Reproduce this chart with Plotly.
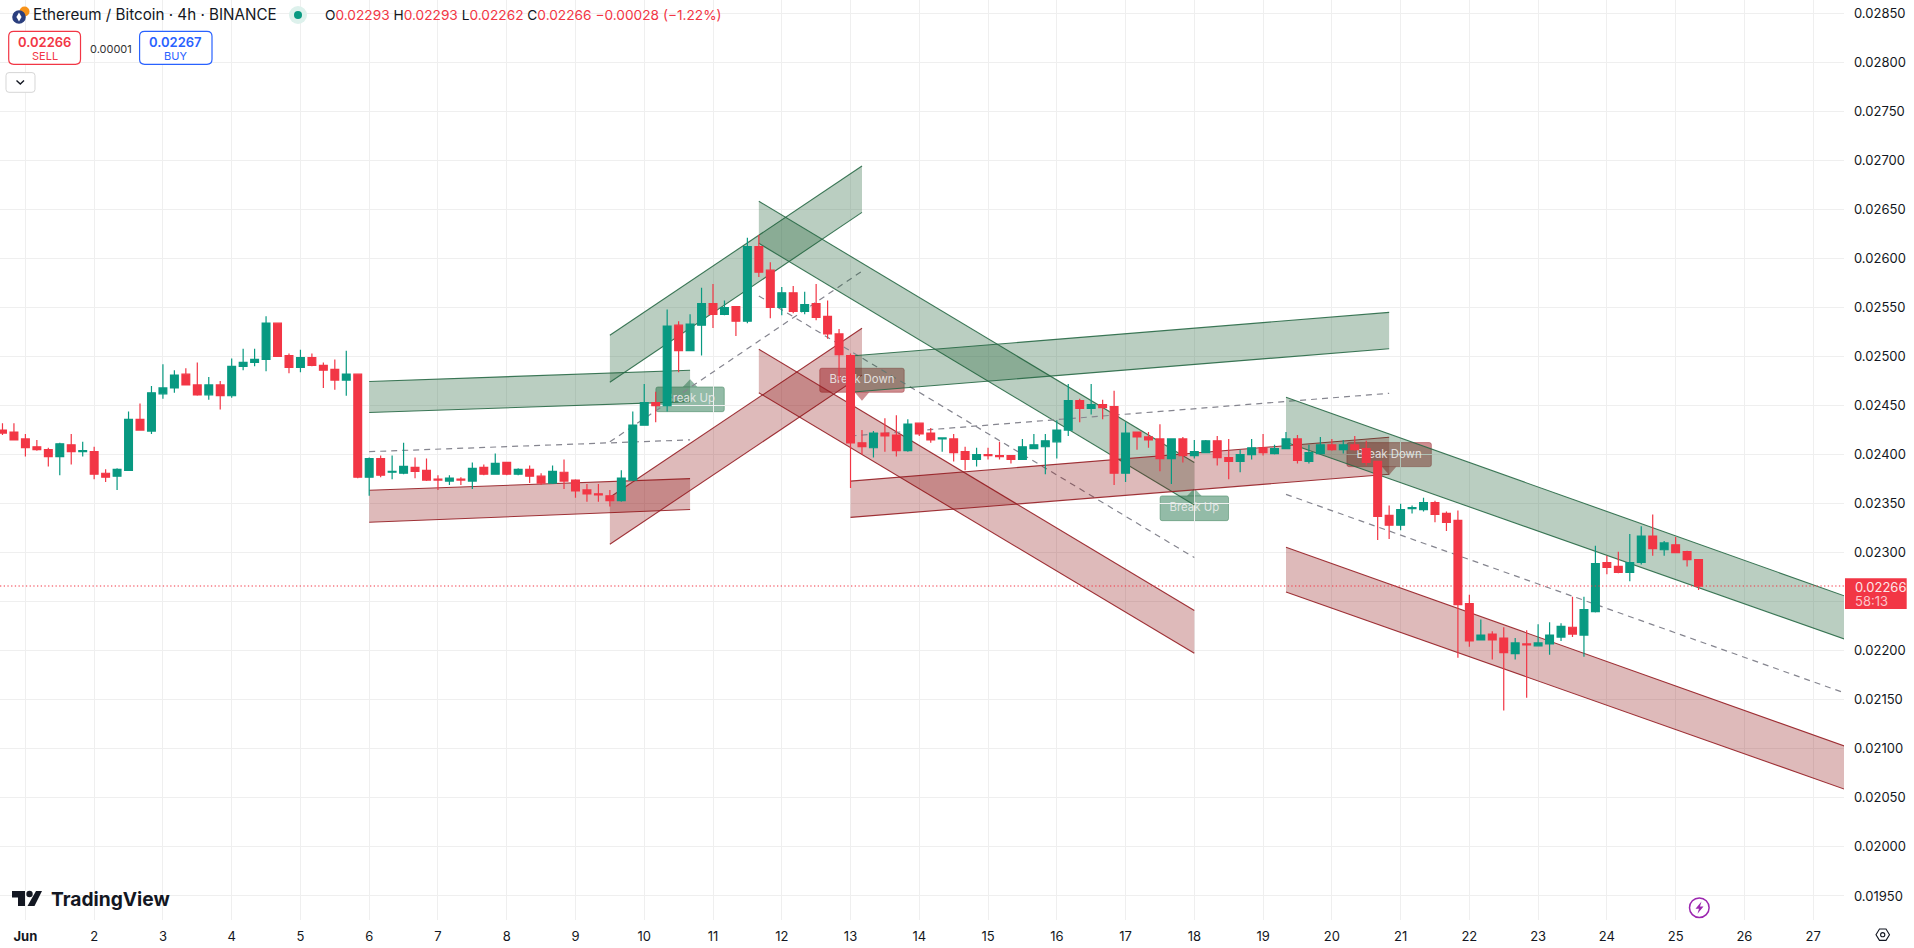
import pandas as pd
import plotly.graph_objects as go

# 4h candles, prices in units of 0.00001
PIP = 0.00001
first_candle = "2025-05-31 16:00"
opens = [2425, 2423, 2416, 2408, 2405, 2398, 2410, 2403, 2403, 2381, 2378, 2384, 2436, 2424, 2462, 2468, 2482, 2471, 2461, 2471,
         2460, 2490, 2494, 2497, 2534, 2501, 2489, 2499, 2491, 2487, 2476, 2482, 2377, 2396, 2382, 2381, 2387, 2384, 2375, 2373,
         2375, 2373, 2387, 2380, 2392, 2380, 2385, 2378, 2371, 2382, 2374, 2364, 2360, 2358, 2353, 2374, 2430, 2453, 2450, 2532,
         2506, 2532, 2554, 2543, 2551, 2536, 2612, 2588, 2550, 2565, 2546, 2554, 2541, 2523, 2501, 2412, 2407, 2422, 2420, 2404,
         2432, 2422, 2416, 2416, 2403, 2395, 2400, 2399, 2399, 2395, 2406, 2408, 2413, 2425, 2455, 2447, 2451, 2449, 2381, 2423,
         2418, 2416, 2396, 2416, 2399, 2402, 2414, 2397, 2393, 2400, 2407, 2401, 2406, 2416, 2393, 2401, 2410, 2405, 2410, 2406,
         2393, 2338, 2328, 2345, 2344, 2351, 2340, 2333, 2248, 2211, 2217, 2213, 2197, 2207, 2205, 2207, 2214, 2224, 2216, 2240,
         2290, 2286, 2280, 2290, 2317, 2303, 2308, 2301, 2293]
highs = [2432, 2432, 2421, 2415, 2407, 2412, 2421, 2413, 2408, 2385, 2386, 2444, 2452, 2470, 2492, 2486, 2488, 2494, 2479, 2475,
         2498, 2508, 2508, 2541, 2534, 2503, 2507, 2503, 2494, 2497, 2506, 2482, 2397, 2399, 2399, 2412, 2397, 2396, 2379, 2379,
         2377, 2392, 2390, 2401, 2392, 2386, 2389, 2381, 2389, 2395, 2375, 2370, 2370, 2364, 2384, 2444, 2472, 2464, 2548, 2536,
         2543, 2570, 2574, 2557, 2551, 2621, 2624, 2596, 2571, 2572, 2566, 2574, 2557, 2528, 2503, 2425, 2424, 2437, 2440, 2436,
         2432, 2427, 2417, 2421, 2408, 2407, 2407, 2413, 2399, 2416, 2421, 2421, 2435, 2472, 2457, 2472, 2456, 2465, 2433, 2423,
         2423, 2431, 2416, 2418, 2415, 2415, 2419, 2416, 2405, 2416, 2421, 2410, 2423, 2420, 2410, 2418, 2416, 2415, 2419, 2414,
         2393, 2348, 2350, 2348, 2356, 2353, 2342, 2343, 2257, 2232, 2220, 2224, 2213, 2221, 2227, 2229, 2228, 2255, 2255, 2307,
         2297, 2301, 2319, 2327, 2339, 2312, 2316, 2302, 2293]
lows = [2420, 2415, 2398, 2404, 2388, 2379, 2390, 2398, 2375, 2372, 2364, 2384, 2425, 2421, 2457, 2463, 2471, 2460, 2456, 2446,
        2458, 2486, 2490, 2485, 2500, 2483, 2484, 2490, 2468, 2466, 2460, 2376, 2358, 2377, 2375, 2380, 2376, 2373, 2364, 2369,
        2369, 2365, 2379, 2380, 2379, 2379, 2371, 2369, 2370, 2365, 2356, 2352, 2352, 2347, 2352, 2373, 2430, 2433, 2444, 2484,
        2506, 2501, 2529, 2542, 2521, 2534, 2581, 2539, 2542, 2544, 2543, 2537, 2518, 2476, 2366, 2400, 2397, 2403, 2398, 2403,
        2419, 2412, 2403, 2393, 2384, 2388, 2395, 2395, 2391, 2395, 2406, 2380, 2396, 2419, 2433, 2441, 2436, 2369, 2372, 2405,
        2407, 2383, 2370, 2392, 2396, 2402, 2389, 2375, 2382, 2395, 2399, 2400, 2406, 2391, 2391, 2401, 2404, 2401, 2404, 2389,
        2313, 2314, 2323, 2340, 2342, 2331, 2322, 2193, 2204, 2211, 2191, 2139, 2191, 2152, 2205, 2196, 2210, 2214, 2194, 2239,
        2278, 2279, 2271, 2288, 2297, 2297, 2300, 2286, 2262]
closes = [2422, 2415, 2407, 2405, 2398, 2411, 2403, 2404, 2380, 2377, 2385, 2436, 2425, 2463, 2468, 2481, 2471, 2461, 2471, 2460,
          2490, 2494, 2497, 2534, 2500, 2489, 2499, 2491, 2486, 2476, 2482, 2377, 2396, 2379, 2383, 2388, 2383, 2374, 2374, 2376,
          2374, 2386, 2380, 2391, 2380, 2385, 2378, 2371, 2383, 2373, 2363, 2360, 2359, 2353, 2376, 2430, 2453, 2450, 2531, 2506,
          2533, 2554, 2543, 2550, 2536, 2612, 2586, 2550, 2565, 2546, 2553, 2540, 2523, 2502, 2412, 2408, 2422, 2419, 2404, 2431,
          2421, 2415, 2417, 2402, 2395, 2400, 2399, 2398, 2395, 2408, 2410, 2414, 2425, 2455, 2447, 2451, 2448, 2381, 2422, 2418,
          2415, 2396, 2416, 2399, 2403, 2414, 2397, 2393, 2400, 2407, 2402, 2406, 2416, 2394, 2402, 2410, 2405, 2410, 2405, 2392,
          2337, 2328, 2344, 2346, 2351, 2339, 2331, 2247, 2210, 2216, 2211, 2198, 2208, 2206, 2208, 2216, 2225, 2217, 2242, 2289,
          2285, 2280, 2290, 2317, 2304, 2310, 2300, 2293, 2266]
last_close = 2266

# channel bands: dates of the two ends, upper/lower prices, dashed middle line
ch1_x = ["2025-06-06 00:00", "2025-06-10 16:00"]
ch1_up_top, ch1_up_bot = [2474.5, 2486], [2443, 2454]
ch1_dn_top, ch1_dn_bot = [2363.6, 2375.5], [2331, 2344]
ch1_mid = [2403, 2415]

ch2_x = ["2025-06-09 12:00", "2025-06-13 04:00"]
ch2_up_top, ch2_up_bot = [2521.7, 2694.3], [2473.7, 2647]
ch2_dn_top, ch2_dn_bot = [2356.5, 2528.8], [2308.6, 2481]
ch2_mid = [2413, 2587]

ch3_x = ["2025-06-11 16:00", "2025-06-18 00:00"]
ch3_up_top, ch3_up_bot = [2658.3, 2392], [2615.4, 2348.6]
ch3_dn_top, ch3_dn_bot = [2507.4, 2241], [2463, 2197.4]
ch3_mid = [2561.7, 2295]

ch4_x = ["2025-06-13 00:00", "2025-06-20 20:00"]
ch4_up_top, ch4_up_bot = [2500.5, 2545], [2463.5, 2508]
ch4_dn_top, ch4_dn_bot = [2373, 2417.7], [2336, 2380]
ch4_mid = [2419, 2462.5]

ch5_x = ["2025-06-19 08:00", "2025-06-27 12:00"]
ch5_up_top, ch5_up_bot = [2458.4, 2254.8], [2412.6, 2210.8]
ch5_dn_top, ch5_dn_bot = [2305.5, 2101.8], [2260, 2057.8]
ch5_mid_x = ["2025-06-19 08:00", "2025-06-27 10:00"]
ch5_mid = [2359.5, 2158]

# break labels
label_text = ["Break Up", "Break Down", "Break Up", "Break Down"]
label_x = ["2025-06-10 16:00", "2025-06-13 04:00", "2025-06-18 00:00", "2025-06-20 20:00"]
label_tip = [2476.8, 2455, 2365.7, 2379.2]
label_mid = [2456.4, 2475.4, 2345.3, 2399.6]

# axis ticks
day_ticks = ["2025-06-%02d" % d for d in range(1, 28)]
day_labels = ["<b>Jun</b>"] + [str(d) for d in range(2, 28)]
price_ticks = [0.0195, 0.02, 0.0205, 0.021, 0.0215, 0.022, 0.0225, 0.023, 0.0235, 0.024, 0.0245, 0.025,
               0.0255, 0.026, 0.0265, 0.027, 0.0275, 0.028, 0.0285]
# the price tag covers the 0.02250 label, so it stays empty
price_labels = ["0.01950", "0.02000", "0.02050", "0.02100", "0.02150", "0.02200", "", "0.02300", "0.02350", "0.02400",
                "0.02450", "0.02500", "0.02550", "0.02600", "0.02650", "0.02700", "0.02750", "0.02800", "0.02850"]

UP = "#089981"
DOWN = "#F23645"
FONT = "Inter"
GREEN_FILL = "rgba(27,94,50,0.30)"
GREEN_LINE = "rgba(40,105,70,0.9)"
RED_FILL = "rgba(140,16,16,0.29)"
RED_LINE = "rgba(150,30,35,0.9)"
PLOT_W, PLOT_H = 1844, 920
X_RANGE = ["2025-05-31 15:08", "2025-06-27 10:46"]
Y_RANGE = [0.019255, 0.028635]


def price(vals):
    return [round(v * PIP, 6) for v in vals]


def px(x):
    return x / PLOT_W


def py(y):
    return 1 - y / PLOT_H


fig = go.Figure()


def add_band(xs, top, bot, fill, line):
    fig.add_trace(go.Scatter(x=xs + xs[::-1], y=price(top + bot[::-1]), mode="lines", fill="toself",
                             fillcolor=fill, line=dict(width=0), hoverinfo="skip", showlegend=False))
    for side in (top, bot):
        fig.add_trace(go.Scatter(x=xs, y=price(side), mode="lines", line=dict(color=line, width=1.1),
                                 hoverinfo="skip", showlegend=False))


channels = [
    (ch1_x, ch1_up_top, ch1_up_bot, ch1_dn_top, ch1_dn_bot, ch1_x, ch1_mid),
    (ch2_x, ch2_up_top, ch2_up_bot, ch2_dn_top, ch2_dn_bot, ch2_x, ch2_mid),
    (ch3_x, ch3_up_top, ch3_up_bot, ch3_dn_top, ch3_dn_bot, ch3_x, ch3_mid),
    (ch4_x, ch4_up_top, ch4_up_bot, ch4_dn_top, ch4_dn_bot, ch4_x, ch4_mid),
    (ch5_x, ch5_up_top, ch5_up_bot, ch5_dn_top, ch5_dn_bot, ch5_mid_x, ch5_mid),
]
for xs, ut, ub, dt, db, mx, mid in channels:
    add_band(xs, ut, ub, GREEN_FILL, GREEN_LINE)
    add_band(xs, dt, db, RED_FILL, RED_LINE)
    fig.add_trace(go.Scatter(x=mx, y=price(mid), mode="lines", hoverinfo="skip", showlegend=False,
                             line=dict(color="#85858f", width=1.2, dash="6px,5px")))

# label text sits under the candles, so it is a trace and not an annotation
fig.add_trace(go.Scatter(x=label_x, y=price(label_mid), mode="text", text=label_text, hoverinfo="skip",
                         textfont=dict(family=FONT, size=11.4, color="rgba(235,235,235,0.9)"), showlegend=False))

# candles go on an overlaid axis so they draw on top of the bands
times = pd.date_range(first_candle, periods=len(opens), freq="4h")
fig.add_trace(go.Candlestick(
    x=times, open=price(opens), high=price(highs), low=price(lows), close=price(closes),
    yaxis="y2", whiskerwidth=0, showlegend=False,
    increasing=dict(line=dict(color=UP, width=1.2), fillcolor=UP),
    decreasing=dict(line=dict(color=DOWN, width=1.2), fillcolor=DOWN),
))

shapes = []


def box_path(w, y0, y1, r=2):
    return (f"M {-w+r},{y0} L {w-r},{y0} Q {w},{y0} {w},{y0-r} L {w},{y1+r} Q {w},{y1} {w-r},{y1} "
            f"L {-w+r},{y1} Q {-w},{y1} {-w},{y1+r} L {-w},{y0-r} Q {-w},{y0} {-w+r},{y0} Z")


for text, lx, tip in zip(label_text, label_x, price(label_tip)):
    if text == "Break Up":
        fill, edge, hw, y0, y1, tri = "rgba(40,120,80,0.5)", "rgba(60,130,90,0.5)", 34.2, -7.7, -32.4, "M -7.3,-7.7 L 0,0 L 7.3,-7.7 Z"
    else:
        fill, edge, hw, y0, y1, tri = "rgba(160,30,35,0.5)", "rgba(160,50,55,0.5)", 42.2, 32.4, 8.4, "M -7.3,8.4 L 0,0 L 7.3,8.4 Z"
    for path, ln in ((box_path(hw, y0, y1), 1), (tri, 0)):
        shapes.append(dict(type="path", path=path, xsizemode="pixel", ysizemode="pixel", xref="x", yref="y",
                           xanchor=lx, yanchor=tip, fillcolor=fill, layer="below",
                           line=dict(color=edge, width=ln)))

# last price line
shapes.append(dict(type="line", xref="paper", yref="y", x0=0, x1=1, y0=last_close * PIP, y1=last_close * PIP,
                   line=dict(color=DOWN, width=1.1, dash="1.3px,2.4px"), layer="above"))


def rect(x0, y0, x1, y1, **kw):
    return dict(type="rect", xref="paper", yref="paper", x0=px(x0), x1=px(x1), y0=py(y0), y1=py(y1), layer="above", **kw)


def circle(cx, cy, r, **kw):
    return dict(type="circle", xref="paper", yref="paper", x0=px(cx - r), x1=px(cx + r), y0=py(cy - r), y1=py(cy + r),
                layer="above", **kw)


def poly(points, closed=True, **kw):
    d = " L ".join(f"{px(x):.5f},{py(y):.5f}" for x, y in points)
    return dict(type="path", xref="paper", yref="paper", path="M " + d + (" Z" if closed else ""), layer="above", **kw)


def rrect(x0, y0, x1, y1, r, **kw):
    X, Y = lambda v: f"{px(v):.5f}", lambda v: f"{py(v):.5f}"
    d = (f"M {X(x0+r)},{Y(y0)} L {X(x1-r)},{Y(y0)} Q {X(x1)},{Y(y0)} {X(x1)},{Y(y0+r)} L {X(x1)},{Y(y1-r)} "
         f"Q {X(x1)},{Y(y1)} {X(x1-r)},{Y(y1)} L {X(x0+r)},{Y(y1)} Q {X(x0)},{Y(y1)} {X(x0)},{Y(y1-r)} "
         f"L {X(x0)},{Y(y0+r)} Q {X(x0)},{Y(y0)} {X(x0+r)},{Y(y0)} Z")
    return dict(type="path", xref="paper", yref="paper", path=d, layer="above", **kw)


no_line = dict(width=0)
# symbol logo
shapes.append(circle(24.5, 11.5, 5, fillcolor="#F7931A", line=no_line))
shapes.append(circle(19, 17, 6.8, fillcolor="#2B3F7E", line=no_line))
shapes.append(poly([(19, 12.5), (21.6, 17), (19, 21.5), (16.4, 17)], fillcolor="white", line=no_line))
# market status dot
shapes.append(circle(298, 15, 9, fillcolor="#DDF1EC", line=no_line))
shapes.append(circle(298, 15, 4, fillcolor=UP, line=no_line))
# sell / buy / collapse buttons
shapes.append(rrect(8.7, 31.3, 80.5, 64.3, 5, fillcolor="white", line=dict(color=DOWN, width=1.2)))
shapes.append(rrect(139.6, 31.3, 212, 64.3, 5, fillcolor="white", line=dict(color="#2962FF", width=1.2)))
shapes.append(rrect(6, 72.6, 35, 92.3, 3, fillcolor="white", line=dict(color="#D6D6D6", width=1)))
shapes.append(poly([(16.5, 80.5), (20.3, 84), (24, 80.5)], closed=False, line=dict(color="#131722", width=1.4)))
# TradingView mark
shapes.append(poly([(12, 891), (25, 891), (25, 906), (18, 906), (18, 897.5), (12, 897.5)], fillcolor="#131722", line=no_line))
shapes.append(circle(29.5, 894, 3.2, fillcolor="#131722", line=no_line))
shapes.append(poly([(36, 891), (42, 891), (34.5, 906), (27.5, 906)], fillcolor="#131722", line=no_line))
# price tag on the axis
shapes.append(rect(1845, 578.3, 1906.7, 609, fillcolor=DOWN, line=no_line))
# lightning badge
shapes.append(circle(1699.3, 907.7, 9.8, fillcolor="white", line=dict(color="#9C27B0", width=1.5)))
shapes.append(poly([(1701.5, 901.5), (1695.5, 908.8), (1699, 908.8), (1697.5, 913.8), (1703.5, 906.6), (1700, 906.6)],
                   fillcolor="#9C27B0", line=no_line))
# settings hexagon
shapes.append(poly([(1876, 934.7), (1879.5, 929), (1886, 929), (1889.5, 934.7), (1886, 940.4), (1879.5, 940.4)],
                   fillcolor="white", line=dict(color="#131722", width=1.1)))
shapes.append(circle(1882.7, 934.7, 2.1, fillcolor="white", line=dict(color="#131722", width=1.1)))


def note(x, y, text, size, color, anchor="left", weight="normal"):
    return dict(xref="paper", yref="paper", x=px(x), y=py(y), text=text, showarrow=False, xanchor=anchor, yanchor="middle",
                font=dict(family=FONT, size=size, color=color, weight=weight), align=anchor)


sep = " "
ohlc = sep.join(["<span style='color:#131722'>O</span>0.02293", "<span style='color:#131722'>H</span>0.02293",
                 "<span style='color:#131722'>L</span>0.02262", "<span style='color:#131722'>C</span>0.02266",
                 "−0.00028 (−1.22%)"])
annotations = [
    note(30.5, 15, "Ethereum / Bitcoin · 4h · BINANCE", 15.2, "#131722"),
    note(323, 15, ohlc, 13.7, DOWN),
    note(44.6, 41.7, "0.02266", 13, DOWN, "center", 600),
    note(44.6, 56, "SELL", 11, DOWN, "center"),
    note(110.5, 48.5, "0.00001", 11, "#333333", "center"),
    note(175.8, 41.7, "0.02267", 13, "#2962FF", "center", 600),
    note(175.8, 56, "BUY", 11, "#2962FF", "center"),
    note(49, 899, "TradingView", 19.2, "#131722", "left", 700),
    note(1853, 586.5, "0.02266", 13, "#FDE7E9"),
    note(1853, 600.5, "58:13", 13, "#FBC4CA"),
]

fig.update_layout(
    width=1914, height=948,
    margin=dict(l=0, r=70, t=0, b=28),
    paper_bgcolor="white", plot_bgcolor="white",
    boxgap=0.32, boxgroupgap=0, hovermode=False, showlegend=False,
    font=dict(family=FONT, size=13, color="#131722"),
    xaxis=dict(type="date", range=X_RANGE, tickmode="array", tickvals=day_ticks, ticktext=day_labels,
               showgrid=True, gridcolor="#EFEFEF", gridwidth=1, zeroline=False, showline=False,
               ticks="", rangeslider=dict(visible=False), ticklabelstandoff=7),
    yaxis=dict(side="right", range=Y_RANGE, tickmode="array", tickvals=price_ticks, ticktext=price_labels,
               showgrid=True, gridcolor="#EFEFEF", gridwidth=1, zeroline=False, showline=False,
               ticks="", ticklabelstandoff=9),
    yaxis2=dict(overlaying="y", range=Y_RANGE, visible=False),
    shapes=shapes,
    annotations=annotations,
)

fig.write_html("out.html", config=dict(displayModeBar=False),
               post_script="document.body.style.margin='0';document.body.style.overflow='hidden';")
